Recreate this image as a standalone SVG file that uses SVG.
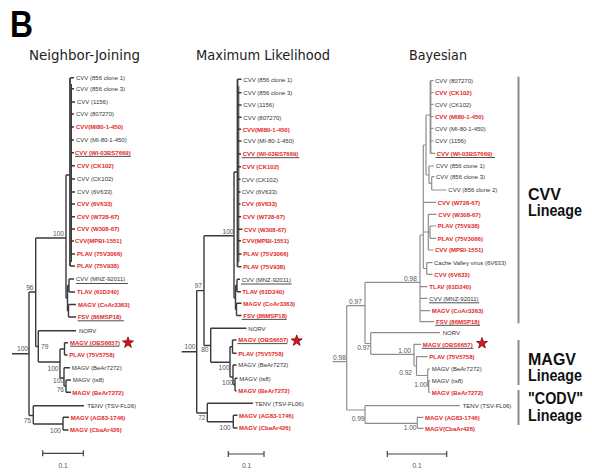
<svg xmlns="http://www.w3.org/2000/svg" xmlns:xlink="http://www.w3.org/1999/xlink" width="592" height="472" viewBox="0 0 592 472">
<defs>
<style>
.t{font-family:"Liberation Sans",Arial,sans-serif;font-size:6px}
.k{fill:#333}
.r{fill:#e41f26;font-weight:bold}
.bs text, text.bs{font-family:"Liberation Sans",Arial,sans-serif;font-size:6.6px;fill:#555}
.ttl{font-family:"DejaVu Sans",Verdana,sans-serif;font-size:13.4px;fill:#222}
.br{fill:none;stroke:#3a3a3a;stroke-width:1.4}
.bb{fill:none;stroke:#8e8e8e;stroke-width:1.2}
.ul{stroke:#222;stroke-width:0.8}
.lin{font-family:"Liberation Sans",Arial,sans-serif;font-weight:bold;font-size:16px;fill:#111}
.bar{stroke:#8c8c8c;stroke-width:2}
.sc{fill:none;stroke:#444;stroke-width:1.2}
.st{fill:#e0161b;stroke:#5a0000;stroke-width:0.7}
</style>
<polygon id="star" points="0,-5.8 1.36,-1.88 5.52,-1.79 2.2,0.72 3.41,4.69 0,2.32 -3.41,4.69 -2.2,0.72 -5.52,-1.79 -1.36,-1.88"/>
</defs>
<rect width="592" height="472" fill="#fff"/>
<text x="10" y="37" font-family="Liberation Sans,Arial,sans-serif" font-weight="bold" font-size="37" textLength="23" lengthAdjust="spacingAndGlyphs" fill="#000">B</text>
<text class="ttl" x="29" y="60" textLength="111" lengthAdjust="spacingAndGlyphs">Neighbor-Joining</text>
<text class="ttl" x="196" y="60" textLength="134" lengthAdjust="spacingAndGlyphs">Maximum Likelihood</text>
<text class="ttl" x="409" y="60" textLength="58" lengthAdjust="spacingAndGlyphs">Bayesian</text>

<!-- ===== Neighbor-Joining ===== -->
<g id="nj-connectors" class="br">
<path d="M12 353.8H29M29 292V415.5M29 292H35.7M35.7 238V346.5M35.7 238H66M66 175V298M66 175H70"/>
<path d="M70 78V266" stroke-width="1.8"/>
<path d="M71.5 84V262" stroke-width="1"/>
<path d="M70 77.7H74M70 88.7H74M70 102H75M70 114H74M70 127H74M70 140H74M70 152.7H74M70 165.7H75M70 179H75M70 192H75M70 204H75M70 216.7H75M70 229H75M70 241H74M70 254H75M70 266H75"/>
<path d="M66 298H67.5M67.5 285.5V311M67.5 285.5H69M69 279V292M69 279H74M69 292H75M67.5 311H68.5M68.5 304.5V317M68.5 304.5H76M68.5 317H76"/>
<path d="M35.7 346.5H38.3M38.3 330.7V362M38.3 330.7H76M38.3 362H60M60 349V378M60 349H64.5M64.5 342.7V355M64.5 342.7H68M64.5 355H67.5M60 378H64M64 367.7V386M64 367.7H70M64 386H66M66 380V392.3M66 380H71M66 392.3H71"/>
<path d="M29 415.5H33.3M33.3 405.7V424M33.3 405.7H84M33.3 424H63M63 417.3V430M63 417.3H69M63 430H68.5"/>
</g>
<g id="nj-support" class="bs">
<text x="28" y="351" text-anchor="end">100</text>
<text x="33.5" y="289.5" text-anchor="end">96</text>
<text x="64" y="236.3" text-anchor="end">100</text>
<text x="41" y="349">79</text>
<text x="58.5" y="370.5" text-anchor="end">100</text>
<text x="64" y="382.5" text-anchor="end">100</text>
<text x="64" y="392.3" text-anchor="end">76</text>
<text x="31" y="422.5" text-anchor="end">75</text>
<text x="61" y="432.5" text-anchor="end">100</text>
</g>
<g id="nj-leaves" class="t">
<g id="nj-1"><text class="k" x="76" y="79.9">CVV (856 clone 1)</text></g>
<g id="nj-2"><text class="k" x="76" y="90.9">CVV (856 clone 3)</text></g>
<g id="nj-3"><text class="k" x="77" y="104.2">CVV (1156)</text></g>
<g id="nj-4"><text class="k" x="76" y="116.2">CVV (807270)</text></g>
<g id="nj-5"><text class="r" x="76" y="129.2">CVV(MI80-1-450)</text></g>
<g id="nj-6"><text class="k" x="76" y="142.2">CVV (MI-80-1-450)</text></g>
<g id="nj-7"><text class="r" x="75" y="154.9">CVV (WI-03BS7669)</text><line class="ul" x1="75" y1="156.4" x2="130.7" y2="156.4"/></g>
<g id="nj-8"><text class="r" x="77" y="167.9">CVV (CK102)</text></g>
<g id="nj-9"><text class="k" x="77" y="181.2">CVV (CK102)</text></g>
<g id="nj-10"><text class="k" x="77" y="194.2">CVV (6V633)</text></g>
<g id="nj-11"><text class="r" x="77" y="206.2">CVV (6V633)</text></g>
<g id="nj-12"><text class="r" x="77" y="218.9">CVV (W728-67)</text></g>
<g id="nj-13"><text class="r" x="77" y="231.2">CVV (W308-67)</text></g>
<g id="nj-14"><text class="r" x="75" y="243.2">CVV(MPBI-1551)</text></g>
<g id="nj-15"><text class="r" x="77" y="256.2">PLAV (75V3066)</text></g>
<g id="nj-16"><text class="r" x="77" y="268.2">PLAV (75V938)</text></g>
<g id="nj-17"><text class="k" x="76" y="281.2">CVV (MNZ-92011)</text><line class="ul" x1="76" y1="283.5" x2="128" y2="283.5"/></g>
<g id="nj-18"><text class="r" x="77" y="294.2">TLAV (61D240)</text></g>
<g id="nj-19"><text class="r" x="78" y="306.7">MAGV (CoAr3363)</text></g>
<g id="nj-20"><text class="r" x="77.7" y="319.2">FSV (86MSP18)</text><line class="ul" x1="77.7" y1="320.8" x2="124" y2="320.8"/></g>
<g id="nj-21"><text class="k" x="79" y="332.9">NORV</text></g>
<g id="nj-22"><text class="r" x="70" y="344.9">MAGV (OBS6657)</text><line class="ul" x1="70" y1="346.2" x2="119.3" y2="346.2"/><use href="#star" class="st" x="128" y="342.7"/></g>
<g id="nj-23"><text class="r" x="69.3" y="357.2">PLAV (75V5758)</text></g>
<g id="nj-24"><text class="k" x="71.7" y="369.9">MAGV (BeAr7272)</text></g>
<g id="nj-25"><text class="k" x="72.7" y="382.2">MAGV (ts8)</text></g>
<g id="nj-26"><text class="r" x="72.3" y="394.5">MAGV (BeAr7272)</text></g>
<g id="nj-27"><text class="k" x="87.3" y="407.9">TENV (TSV-FL06)</text></g>
<g id="nj-28"><text class="r" x="70.7" y="419.5">MAGV (AG83-1746)</text></g>
<g id="nj-29"><text class="r" x="70" y="432.2">MAGV (CbaAr426)</text></g>
</g>
<g id="nj-scale">
<path class="sc" d="M42.7 453.3H83.3M42.7 450.3V456.3M83.3 450.3V456.3"/>
<text class="bs" x="63" y="468" text-anchor="middle">0.1</text>
</g>

<!-- ===== Maximum Likelihood ===== -->
<g id="ml-connectors" class="br">
<path d="M181.7 351.8H196.7M196.7 290.6V413M196.7 290.6H204M204 235.7V345.5M204 235.7H234M234 172V298M234 172H237.5"/>
<path d="M237.5 79.3V266.7" stroke-width="1.8"/>
<path d="M238.8 86V262" stroke-width="1"/>
<path d="M237.5 79.3H241.5M237.5 92.7H241.5M237.5 105H241.5M237.5 117.3H241.5M237.5 129.3H241M237.5 141H241.5M237.5 154H241M237.5 166.7H241M237.5 179.3H240.5M237.5 192H240.5M237.5 204H240.5M237.5 216.7H241M237.5 229.3H242.5M237.5 240.7H241M237.5 254H241.5M237.5 266.7H241.5"/>
<path d="M234 298H235.5M235.5 285.5V309.5M235.5 285.5H237M237 279.3V291.7M237 279.3H240M237 291.7H241M235.5 309.5H236.5M236.5 303.3V315.5M236.5 303.3H241.5M236.5 315.5H241.5"/>
<path d="M204 345.5H210.7M210.7 328.3V362.3M210.7 328.3H246.5M210.7 362.3H230M230 346.7V377M230 346.7H232.5M232.5 340V353.3M232.5 340H236.5M232.5 353.3H236.5M230 377H233M233 365V384.5M233 365H236.5M233 384.5H235M235 378.3V390.7M235 378.3H237.5M235 390.7H236.5"/>
<path d="M196.7 413H207.3M207.3 403.3V421.7M207.3 403.3H253M207.3 421.7H233.3M233.3 415.3V428M233.3 415.3H237.5M233.3 428H237.5"/>
</g>
<g id="ml-support" class="bs">
<text x="195.5" y="348.5" text-anchor="end">100</text>
<text x="202" y="288" text-anchor="end">97</text>
<text x="233.5" y="234" text-anchor="end">100</text>
<text x="208.5" y="352" text-anchor="end">80</text>
<text x="229.5" y="369.8" text-anchor="end">100</text>
<text x="233" y="385" text-anchor="end">100</text>
<text x="205.5" y="419.8" text-anchor="end">72</text>
<text x="230.5" y="429.8" text-anchor="end">100</text>
</g>
<g id="ml-leaves" class="t">
<g id="ml-1"><text class="k" x="243.3" y="81.5">CVV (856 clone 1)</text></g>
<g id="ml-2"><text class="k" x="243.3" y="94.9">CVV (856 clone 3)</text></g>
<g id="ml-3"><text class="k" x="243.3" y="107.2">CVV (1156)</text></g>
<g id="ml-4"><text class="k" x="243.3" y="119.5">CVV (807270)</text></g>
<g id="ml-5"><text class="r" x="242.7" y="131.5">CVV(MI80-1-450)</text></g>
<g id="ml-6"><text class="k" x="243.3" y="143.2">CVV (MI-80-1-450)</text></g>
<g id="ml-7"><text class="r" x="242.7" y="156.2">CVV (WI-03BS7669)</text><line class="ul" x1="241.7" y1="157.7" x2="299.3" y2="157.7"/></g>
<g id="ml-8"><text class="r" x="242.3" y="168.9">CVV (CK102)</text></g>
<g id="ml-9"><text class="k" x="241.7" y="181.5">CVV (CK102)</text></g>
<g id="ml-10"><text class="k" x="241.7" y="194.2">CVV (6V633)</text></g>
<g id="ml-11"><text class="r" x="241.7" y="206.2">CVV (6V633)</text></g>
<g id="ml-12"><text class="r" x="242.7" y="218.9">CVV (W728-67)</text></g>
<g id="ml-13"><text class="r" x="244" y="231.5">CVV (W308-67)</text></g>
<g id="ml-14"><text class="r" x="242.3" y="242.9">CVV(MPBI-1551)</text></g>
<g id="ml-15"><text class="r" x="243.3" y="256.2">PLAV (75V3066)</text></g>
<g id="ml-16"><text class="r" x="243.3" y="268.9">PLAV (75V938)</text></g>
<g id="ml-17"><text class="k" x="241.7" y="281.5">CVV (MNZ-92011)</text><line class="ul" x1="241" y1="284" x2="291.7" y2="284"/></g>
<g id="ml-18"><text class="r" x="242.3" y="293.9">TLAV (61D240)</text></g>
<g id="ml-19"><text class="r" x="243.3" y="305.5">MAGV (CoAr3363)</text></g>
<g id="ml-20"><text class="r" x="243.3" y="317.7">FSV (86MSP18)</text><line class="ul" x1="241.7" y1="319.4" x2="286.7" y2="319.4"/></g>
<g id="ml-21"><text class="k" x="248.3" y="330.5">NORV</text></g>
<g id="ml-22"><text class="r" x="238.3" y="342.2">MAGV (OBS6657)</text><line class="ul" x1="237.3" y1="343.6" x2="287.3" y2="343.6"/><use href="#star" class="st" x="296.7" y="340.7"/></g>
<g id="ml-23"><text class="r" x="238.3" y="355.5">PLAV (75V5758)</text></g>
<g id="ml-24"><text class="k" x="238.3" y="367.2">MAGV (BeAr7272)</text></g>
<g id="ml-25"><text class="k" x="239.3" y="380.5">MAGV (ts8)</text></g>
<g id="ml-26"><text class="r" x="238.3" y="392.9">MAGV (BeAr7272)</text></g>
<g id="ml-27"><text class="k" x="255" y="405.5">TENV (TSV-FL06)</text></g>
<g id="ml-28"><text class="r" x="239" y="417.5">MAGV (AG83-1746)</text></g>
<g id="ml-29"><text class="r" x="239" y="430.2">MAGV (CbaAr426)</text></g>
</g>
<g id="ml-scale">
<path class="sc" d="M228.3 454H264M228.3 451V457M264 451V457"/>
<text class="bs" x="246.5" y="468" text-anchor="middle">0.1</text>
</g>

<!-- ===== Bayesian ===== -->
<g id="by-connectors" class="bb">
<path d="M332.7 361.7H346.7M346.7 305.7V410M346.7 305.7H365M365 282.3V343.5M365 282.3H420M420 235V321.7M420 286.7H427.5M420 298.3H427.5M420 310.7H430M420 321.7H434"/>
<path d="M420 235H423.3M423.3 145V268.5M423.3 145H426M426 115V175M426 115H430.5"/>
<path d="M430.5 80.7V153.3" stroke-width="1.8"/>
<path d="M430.5 80.7H433.5M430.5 92.7H433.5M430.5 104.3H433.5M430.5 116.7H433.5M430.5 128.3H433.5M430.5 141H433.5M430.5 153.3H435"/>
<path d="M426 175H429M429 166V183.4M429 166H434M429 183.4H431.7M431.7 176.7V190M431.7 176.7H434.5M431.7 190H446.5"/>
<path d="M423.3 202.3H436M423.3 232H428.3M428.3 214.3V250M428.3 214.3H436.5M428.3 250H433.5M428.3 232.2H430M430 226V238.3M430 226H436M430 238.3H436M423.3 268.5H426.7M426.7 262.7V274.3M426.7 262.7H432.5M426.7 274.3H432.5"/>
<path d="M365 343.5H370.7M370.7 332.7V354.3M370.7 332.7H440M370.7 354.3H414M414 344.3V366M414 344.3H421M414 366H416.5M416.5 356.7V375.5M416.5 356.7H427.5M416.5 375.5H427.7M427.7 369V386.5M427.7 369H430M427.7 386.5H428.7M428.7 380.7V392.3M428.7 380.7H430M428.7 392.3H430"/>
<path d="M346.7 410H365M365 405.7V423.3M365 405.7H460M365 423.3H417.3M417.3 417.3V428.3M417.3 417.3H423.5M417.3 428.3H423.5"/>
</g>
<g id="by-support" class="bs">
<text x="333" y="359.5">0.98</text>
<text x="349" y="303.5">0.97</text>
<text x="404" y="280.5">0.98</text>
<text x="370" y="350" text-anchor="end">0.97</text>
<text x="411" y="352.6" text-anchor="end">1.00</text>
<text x="412" y="374.5" text-anchor="end">0.92</text>
<text x="427" y="387.2" text-anchor="end">1.00</text>
<text x="364.5" y="420.5" text-anchor="end">0.99</text>
<text x="416.5" y="429.6" text-anchor="end">1.00</text>
</g>
<g id="by-leaves" class="t">
<g id="by-1"><text class="k" x="435" y="82.9">CVV (807270)</text></g>
<g id="by-2"><text class="r" x="435" y="94.9">CVV (CK102)</text></g>
<g id="by-3"><text class="k" x="435" y="106.5">CVV (CK102)</text></g>
<g id="by-4"><text class="r" x="435" y="118.9">CVV (MI80-1-450)</text></g>
<g id="by-5"><text class="k" x="435" y="130.5">CVV (MI-80-1-450)</text></g>
<g id="by-6"><text class="k" x="435" y="143.2">CVV (1156)</text></g>
<g id="by-7"><text class="r" x="436.7" y="155.5">CVV (WI-03BS7669)</text><line class="ul" x1="435.7" y1="157.5" x2="495" y2="157.5"/></g>
<g id="by-8"><text class="k" x="435.7" y="168.2">CVV (856 clone 1)</text></g>
<g id="by-9"><text class="k" x="436" y="178.9">CVV (856 clone 3)</text></g>
<g id="by-10"><text class="k" x="448.3" y="192.2">CVV (856 clone 2)</text></g>
<g id="by-11"><text class="r" x="437.7" y="204.5">CVV (W728-67)</text></g>
<g id="by-12"><text class="r" x="438.3" y="216.5">CVV (W308-67)</text></g>
<g id="by-13"><text class="r" x="437.7" y="228.2">PLAV (75V938)</text></g>
<g id="by-14"><text class="r" x="437.7" y="240.5">PLAV (75V3066)</text></g>
<g id="by-15"><text class="r" x="435" y="252.2">CVV (MPBI-1551)</text></g>
<g id="by-16"><text class="k" x="434" y="264.9">Cache Valley virus (6V633)</text></g>
<g id="by-17"><text class="r" x="434.3" y="276.5">CVV (6V633)</text></g>
<g id="by-18"><text class="r" x="429.3" y="288.9">TLAV (61D240)</text></g>
<g id="by-19"><text class="k" x="429.3" y="300.5">CVV (MNZ-92011)</text><line class="ul" x1="429" y1="302.8" x2="479.3" y2="302.8"/></g>
<g id="by-20"><text class="r" x="431.7" y="312.9">MAGV (CoAr3363)</text></g>
<g id="by-21"><text class="r" x="436" y="323.9">FSV (86MSP18)</text><line class="ul" x1="435.3" y1="325.3" x2="480" y2="325.3"/></g>
<g id="by-22"><text class="k" x="442.7" y="334.9">NORV</text></g>
<g id="by-23"><text class="r" x="422.7" y="346.5">MAGV (OBS6657)</text><line class="ul" x1="422" y1="348.3" x2="473.3" y2="348.3"/><use href="#star" class="st" x="482" y="343.3"/></g>
<g id="by-24"><text class="r" x="429.3" y="358.9">PLAV (75V5758)</text></g>
<g id="by-25"><text class="k" x="431.7" y="371.2">MAGV (BeAr7272)</text></g>
<g id="by-26"><text class="k" x="431.7" y="382.9">MAGV (ts8)</text></g>
<g id="by-27"><text class="r" x="431.7" y="394.5">MAGV (BeAr7272)</text></g>
<g id="by-28"><text class="k" x="462.7" y="407.9">TENV (TSV-FL06)</text></g>
<g id="by-29"><text class="r" x="425" y="419.5">MAGV (AG83-1746)</text></g>
<g id="by-30"><text class="r" x="425" y="430.5">MAGV(CbaAr426)</text></g>
</g>
<g id="by-scale">
<path class="sc" d="M387.3 454H446.7M387.3 451V457M446.7 451V457"/>
<text class="bs" x="417" y="468" text-anchor="middle">0.1</text>
</g>

<!-- ===== Lineage brackets ===== -->
<g id="cvv-lineage">
<line class="bar" x1="518.5" y1="76.7" x2="518.5" y2="323.3"/>
<text class="lin" x="528" y="200" textLength="33" lengthAdjust="spacingAndGlyphs">CVV</text>
<text class="lin" x="528" y="216" textLength="54" lengthAdjust="spacingAndGlyphs">Lineage</text>
</g>
<g id="magv-lineage">
<line class="bar" x1="518.5" y1="340" x2="518.5" y2="385"/>
<text class="lin" x="528" y="365" textLength="48" lengthAdjust="spacingAndGlyphs">MAGV</text>
<text class="lin" x="528" y="381" textLength="54" lengthAdjust="spacingAndGlyphs">Lineage</text>
</g>
<g id="codv-lineage">
<line class="bar" x1="518.5" y1="390" x2="518.5" y2="425"/>
<text class="lin" x="528" y="404" textLength="55" lengthAdjust="spacingAndGlyphs">"CODV"</text>
<text class="lin" x="528" y="420.5" textLength="54" lengthAdjust="spacingAndGlyphs">Lineage</text>
</g>
</svg>
